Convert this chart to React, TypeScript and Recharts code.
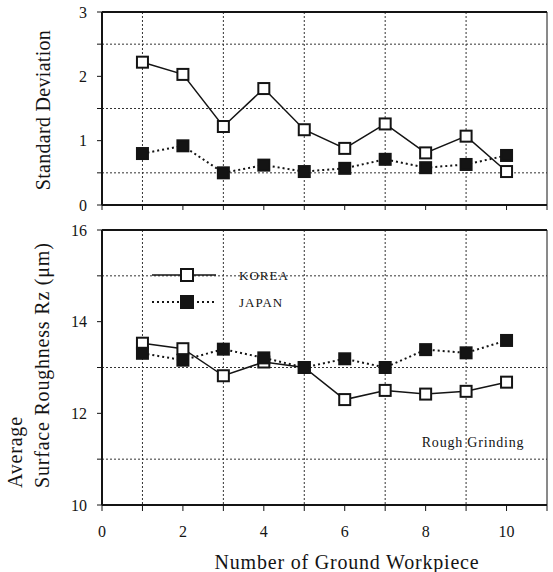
import React from "react";
import {
  LineChart,
  Line,
  XAxis,
  YAxis,
  CartesianGrid,
  ReferenceLine,
  Legend,
} from "recharts";

const workpieces = [1, 2, 3, 4, 5, 6, 7, 8, 9, 10];
const koreaStd = [2.22, 2.03, 1.22, 1.81, 1.17, 0.88, 1.26, 0.81, 1.07, 0.52];
const japanStd = [0.8, 0.92, 0.5, 0.62, 0.52, 0.57, 0.71, 0.58, 0.63, 0.77];
const koreaRz = [13.53, 13.41, 12.82, 13.12, 13.0, 12.3, 12.5, 12.42, 12.48, 12.68];
const japanRz = [13.31, 13.16, 13.4, 13.21, 13.0, 13.19, 13.0, 13.39, 13.32, 13.59];

const xTicks = [0, 1, 2, 3, 4, 5, 6, 7, 8, 9, 10, 11];
const stdTicks = [0, 0.5, 1, 1.5, 2, 2.5, 3];
const rzTicks = [10, 11, 12, 13, 14, 15, 16];
const xGrid = [1, 3, 5, 7, 9];
const stdGrid = [0.5, 1.5, 2.5];
const rzGrid = [11, 13, 15];
const seriesNames = ["KOREA", "JAPAN"];

const stdData = workpieces.map((w, i) => ({ n: w, korea: koreaStd[i], japan: japanStd[i] }));
const rzData = workpieces.map((w, i) => ({ n: w, korea: koreaRz[i], japan: japanRz[i] }));

const FONT = "'Liberation Serif', 'DejaVu Serif', serif";
const INK = "#141414";
const W = 553;
const PLOT_LEFT = 102;

const tickStyle = { fontFamily: FONT, fontSize: 16, fill: INK };

const square = (filled: boolean) => (props: any) => {
  const { cx, cy, index } = props;
  if (cx == null || cy == null) return <g key={index} />;
  return (
    <rect
      key={index}
      x={cx - 5.5}
      y={cy - 5.5}
      width={11}
      height={11}
      fill={filled ? INK : "#fff"}
      stroke={INK}
      strokeWidth={2}
    />
  );
};

function LegendBox() {
  return (
    <svg width={160} height={46} style={{ display: "block" }}>
      {seriesNames.map((name, i) => {
        const y = 10 + i * 27;
        const filled = i === 1;
        return (
          <g key={name}>
            <line
              x1={2}
              x2={66}
              y1={y}
              y2={y}
              stroke={INK}
              strokeWidth={filled ? 2 : 1.5}
              strokeDasharray={filled ? "2 3" : undefined}
            />
            <rect x={31} y={y - 6} width={12} height={12} fill={filled ? INK : "#fff"} stroke={INK} strokeWidth={2} />
            <text x={89} y={y} dominantBaseline="central" fontFamily={FONT} fontSize={13} letterSpacing={1} fill={INK}>
              {name}
            </text>
          </g>
        );
      })}
    </svg>
  );
}

const evenX = (v: number) => (v % 2 === 0 && v <= 10 ? String(v) : "");
const evenY = (v: number) => (v % 2 === 0 ? String(v) : "");
const intLabel = (v: number) => (Number.isInteger(v) ? String(v) : "");

export default function App() {
  return (
    <div style={{ position: "absolute", left: 0, top: 0, width: W, height: 572, background: "#fff" }}>
      <LineChart width={W} height={215} data={stdData} margin={{ top: 12, right: 6, left: 0, bottom: 0 }}>
        <CartesianGrid
          stroke="#333"
          strokeDasharray="2 2"
          horizontalValues={stdGrid}
          verticalValues={xGrid}
        />
        <XAxis
          dataKey="n"
          type="number"
          domain={[0, 11]}
          ticks={xTicks}
          tickFormatter={() => ""}
          height={10}
          tickSize={5}
          stroke={INK}
          axisLine={{ stroke: INK, strokeWidth: 2 }}
        />
        <YAxis
          type="number"
          domain={[0, 3]}
          ticks={stdTicks}
          tickFormatter={intLabel}
          width={PLOT_LEFT}
          tickSize={5}
          tickMargin={10}
          tick={tickStyle}
          stroke={INK}
          axisLine={{ stroke: INK, strokeWidth: 2 }}
          label={{
            content: () => (
              <text
                x={43}
                y={110}
                transform="rotate(-90 43 110)"
                textAnchor="middle"
                dominantBaseline="central"
                fontFamily={FONT}
                fontSize={20}
                letterSpacing={0.3}
                fill={INK}
              >
                Standard Deviation
              </text>
            ),
          }}
        />
        <ReferenceLine y={3} stroke={INK} strokeWidth={2} />
        <ReferenceLine x={11} stroke={INK} strokeWidth={1} />
        <Line
          dataKey="korea"
          type="linear"
          stroke={INK}
          strokeWidth={1.5}
          dot={square(false)}
          isAnimationActive={false}
        />
        <Line
          dataKey="japan"
          type="linear"
          stroke={INK}
          strokeWidth={2}
          strokeDasharray="2 3"
          dot={square(true)}
          isAnimationActive={false}
        />
      </LineChart>

      <LineChart width={W} height={357} data={rzData} margin={{ top: 15, right: 6, left: 0, bottom: 0 }}>
        <CartesianGrid
          stroke="#333"
          strokeDasharray="2 2"
          horizontalValues={rzGrid}
          verticalValues={xGrid}
        />
        <XAxis
          dataKey="n"
          type="number"
          domain={[0, 11]}
          ticks={xTicks}
          tickFormatter={evenX}
          height={67}
          tickSize={6}
          tickMargin={15}
          tick={tickStyle}
          stroke={INK}
          axisLine={{ stroke: INK, strokeWidth: 2 }}
          label={{
            content: () => (
              <g>
                <text x={347} y={347} textAnchor="middle" dominantBaseline="central" fontFamily={FONT} fontSize={20} letterSpacing={0.8} fill={INK}>
                  Number of Ground Workpiece
                </text>
                <text x={473} y={227} textAnchor="middle" dominantBaseline="central" fontFamily={FONT} fontSize={14} letterSpacing={0.8} fill={INK}>
                  Rough Grinding
                </text>
              </g>
            ),
          }}
        />
        <YAxis
          type="number"
          domain={[10, 16]}
          ticks={rzTicks}
          tickFormatter={evenY}
          width={PLOT_LEFT}
          tickSize={5}
          tickMargin={10}
          tick={tickStyle}
          stroke={INK}
          axisLine={{ stroke: INK, strokeWidth: 2 }}
          label={{
            content: () => (
              <g fontFamily={FONT} fontSize={20} fill={INK} letterSpacing={0.8}>
                <text x={15} y={273} transform="rotate(-90 15 273)" textAnchor="start" dominantBaseline="central">
                  Average
                </text>
                <text x={42} y={273} transform="rotate(-90 42 273)" textAnchor="start" dominantBaseline="central">
                  Surface Roughness Rz (μm)
                </text>
              </g>
            ),
          }}
        />
        <ReferenceLine y={16} stroke={INK} strokeWidth={2} />
        <ReferenceLine x={11} stroke={INK} strokeWidth={1} />
        <Legend
          layout="horizontal"
          verticalAlign="middle"
          align="center"
          content={() => <LegendBox />}
          wrapperStyle={{ left: 150, top: 50, width: 160, height: 46 }}
        />
        <Line
          dataKey="korea"
          type="linear"
          stroke={INK}
          strokeWidth={1.5}
          dot={square(false)}
          isAnimationActive={false}
        />
        <Line
          dataKey="japan"
          type="linear"
          stroke={INK}
          strokeWidth={2}
          strokeDasharray="2 3"
          dot={square(true)}
          isAnimationActive={false}
        />
      </LineChart>
    </div>
  );
}
